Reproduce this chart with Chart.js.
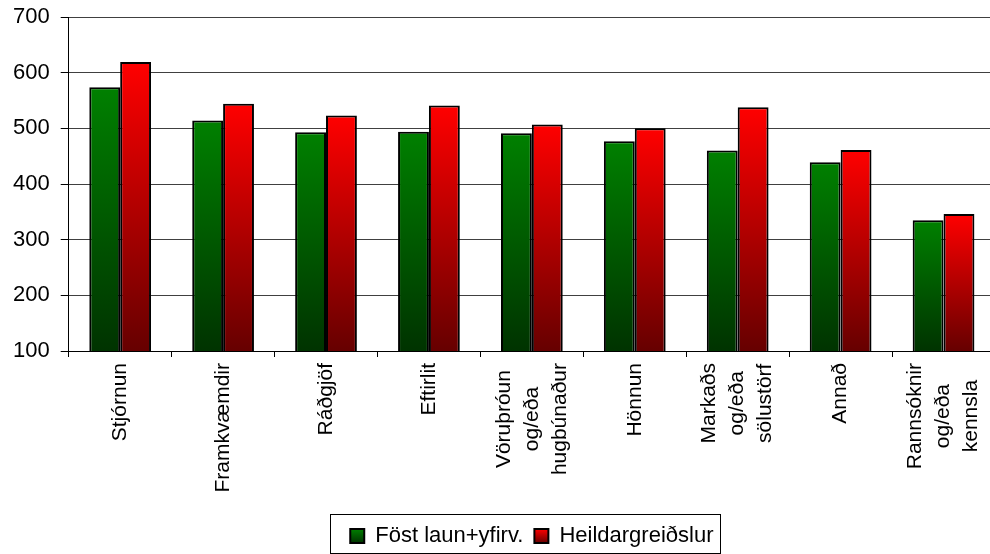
<!DOCTYPE html>
<html>
<head>
<meta charset="utf-8">
<script src="https://cdn.jsdelivr.net/npm/chart.js@4"></script>
<style>
  html, body { margin: 0; padding: 0; background: #fff; overflow: hidden; }
  canvas { display: block; }
</style>
</head>
<body>
<canvas id="chart1" width="996" height="554"></canvas>
<script>
const categories = [
  ["Stjórnun"],
  ["Framkvæmdir"],
  ["Ráðgjöf"],
  ["Eftirlit"],
  ["Vöruþróun", "og/eða", "hugbúnaður"],
  ["Hönnun"],
  ["Markaðs", "og/eða", "sölustörf"],
  ["Annað"],
  ["Rannsóknir", "og/eða", "kennsla"],
];
const seriesNames = ["Föst laun+yfirv.", "Heildargreiðslur"];
const fixedPay = [574, 514, 493, 494, 491, 477, 460, 439, 335];
const totalPay = [619, 544, 523, 541, 507, 500, 538, 461, 346];
const yTicks = [100, 200, 300, 400, 500, 600, 700];

const fontFamily = "'Liberation Sans', Arial, sans-serif";
const shades = [
  ["#008000", "#003300"],
  ["#ff0000", "#660000"],
];

const barGradient = function (k) {
  return (c) => {
    const chart = c.chart;
    if (c.type !== "data" || !chart.chartArea) {
      return shades[k][0];
    }
    const y = chart.scales.y;
    const y0 = y.getPixelForValue(c.raw);
    const y1 = y.getPixelForValue(yTicks[0]);
    const g = chart.ctx.createLinearGradient(0, y0, 0, y1);
    g.addColorStop(0, shades[k][0]);
    g.addColorStop(1, shades[k][1]);
    return g;
  };
};

const xLabels = {
  id: "xLabels",
  afterDraw(chart) {
    const ctx = chart.ctx;
    const x = chart.scales.x;
    ctx.save();
    ctx.font = "21px " + fontFamily;
    ctx.fillStyle = "#000";
    ctx.textAlign = "center";
    ctx.textBaseline = "middle";
    categories.forEach((lines, i) => {
      const cx = x.getPixelForValue(i);
      const widest = Math.max(...lines.map((l) => ctx.measureText(l).width));
      const cy = x.top + 12 + widest / 2;
      lines.forEach((line, j) => {
        ctx.save();
        ctx.translate(cx + (j - (lines.length - 1) / 2) * 28, cy);
        ctx.rotate(-Math.PI / 2);
        ctx.fillText(line, 0, 0);
        ctx.restore();
      });
    });
    ctx.restore();
  },
};

const legendStyle = {
  id: "legendStyle",
  beforeDraw(chart) {
    const boxes = chart.legend.legendHitBoxes;
    chart.legend.legendItems.forEach((item, i) => {
      const b = boxes[i];
      const g = chart.ctx.createLinearGradient(0, b.top + 4, 0, b.top + 18);
      g.addColorStop(0, shades[i][0]);
      g.addColorStop(1, shades[i][1]);
      item.fillStyle = g;
    });
  },
  afterDraw(chart) {
    const boxes = chart.legend.legendHitBoxes;
    if (!boxes.length) return;
    const first = boxes[0];
    const last = boxes[boxes.length - 1];
    const ctx = chart.ctx;
    ctx.save();
    ctx.strokeStyle = "#000";
    ctx.lineWidth = 1;
    const left = Math.round(first.left - 20) + 0.5;
    const right = Math.round(last.left + last.width + 7) + 0.5;
    ctx.strokeRect(left, 514.5, right - left, 39);
    ctx.restore();
  },
};

new Chart(document.getElementById("chart1"), {
  type: "bar",
  data: {
    labels: categories.map((l) => l.join(" ")),
    datasets: [
      {
        label: seriesNames[0],
        data: fixedPay,
        backgroundColor: barGradient(0),
        borderColor: "#000",
        borderWidth: 2,
        borderSkipped: false,
      },
      {
        label: seriesNames[1],
        data: totalPay,
        backgroundColor: barGradient(1),
        borderColor: "#000",
        borderWidth: 2,
        borderSkipped: false,
      },
    ],
  },
  options: {
    responsive: false,
    devicePixelRatio: 1,
    animation: false,
    categoryPercentage: 0.6,
    barPercentage: 1,
    layout: { padding: { left: 2, top: 17, right: 1, bottom: -3 } },
    plugins: {
      tooltip: { enabled: false },
      legend: {
        position: "bottom",
        fullSize: false,
        labels: {
          boxWidth: 14,
          boxHeight: 14,
          padding: 11,
          color: "#000",
          font: { family: fontFamily, size: 22 },
        },
      },
    },
    scales: {
      x: {
        offset: true,
        afterFit: (scale) => {
          scale.height = 163;
        },
        border: { color: "#000", width: 1 },
        grid: {
          offset: true,
          drawOnChartArea: false,
          drawTicks: true,
          tickLength: 6,
          tickColor: "#000",
        },
        ticks: { display: false },
      },
      y: {
        min: yTicks[0],
        max: yTicks[yTicks.length - 1],
        border: { color: "#000", width: 1 },
        grid: { color: "#404040", tickColor: "#000", tickLength: 8 },
        afterBuildTicks: (scale) => {
          scale.ticks = yTicks.map((v) => ({ value: v }));
        },
        afterFit: (scale) => {
          scale.paddingTop = 0;
          scale.paddingBottom = 0;
        },
        ticks: {
          padding: 11,
          color: "#000",
          font: { family: fontFamily, size: 22 },
        },
      },
    },
  },
  plugins: [xLabels, legendStyle],
});
</script>
</body>
</html>
